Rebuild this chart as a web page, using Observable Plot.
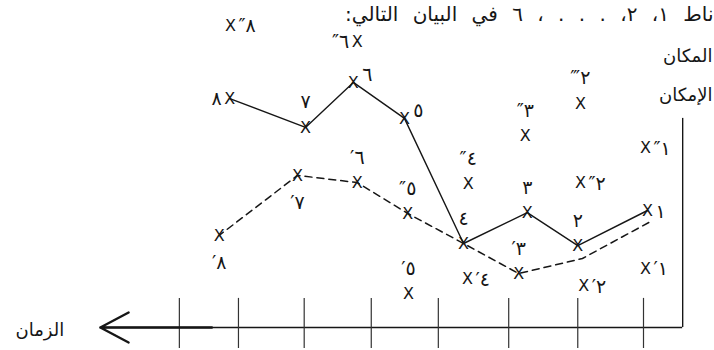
<!DOCTYPE html>
<html>
<head>
<meta charset="utf-8">
<script src="https://cdn.jsdelivr.net/npm/d3@7"></script>
<script src="https://cdn.jsdelivr.net/npm/@observablehq/plot@0.6"></script>
<style>
  html, body { margin: 0; padding: 0; background: #fff; overflow: hidden; }
  #chart svg { display: block; }
</style>
</head>
<body>
<div id="chart"></div>
<script>
// ---- data (time units along the axis, place units upward) ----
const titleText = "ناط ١، ٢، . . . ، ٦ في البيان التالي:";
const placeLabel = "المكان";
const possibleLabel = "الإمكان";
const timeLabel = "الزمان";

// tick marks on the time axis
const timeTicks = [1.0, 1.99, 3.03, 4.09, 5.10, 6.11, 7.10, 7.99];
const axisStart = 0.41;   // vertical axis position
const axisEnd = 9.18;     // arrow tip
const axisTop = 6.97;     // top of vertical axis

// solid path: points 1..8
const solidNames = ["١", "٢", "٣", "٤", "٥", "٦", "٧", "٨"];
const solidT = [0.94, 1.99, 2.75, 3.71, 4.60, 5.37, 6.09, 7.23];
const solidV = [3.90, 2.73, 3.83, 2.80, 6.97, 8.17, 6.67, 7.63];
const solidSide = ["right", "above", "above", "above", "upright", "upright", "above", "left"];

// dashed path
const dashedT = [0.92, 1.92, 2.88, 3.71, 4.55, 5.31, 6.21, 7.39];
const dashedV = [3.50, 2.30, 1.80, 2.80, 3.80, 4.83, 5.07, 3.07];
const dashedNames = [null, null, "′٣", null, "″٥", "′٦", "′٧", "′٨"];
const dashedSide = [null, null, "above", null, "above", "above", "below", "below"];

// separate crosses
const looseNames = ["″٨", "″٦", "‴٢", "″٣", "″١", "″٤", "″٢", "′٥", "′٤", "′٢", "′١"];
const looseT = [7.22, 5.31, 1.95, 2.78, 0.97, 3.64, 1.95, 4.54, 3.65, 1.90, 0.97];
const looseV = [10.07, 9.53, 7.47, 6.40, 6.00, 4.80, 4.83, 1.13, 1.63, 1.40, 1.97];
const looseSide = ["right", "left", "above", "above", "right", "above", "right", "above", "right", "right", "right"];

// ---- build tables ----
const solid = solidT.map((t, i) => ({t, v: solidV[i], name: solidNames[i], side: solidSide[i]}));
const dashed = dashedT.map((t, i) => ({t, v: dashedV[i], name: dashedNames[i], side: dashedSide[i]}));
const loose = looseT.map((t, i) => ({t, v: looseV[i], name: looseNames[i], side: looseSide[i]}));

const crosses = [
  ...solid,
  ...dashed.filter(d => d.name),
  ...loose
];

const ink = "#161616";
const labelFont = 19;

function labelMark(side, opts) {
  return Plot.text(crosses.filter(d => d.side === side), {
    x: "t", y: "v", text: "name",
    fill: ink, fontSize: labelFont, lineAnchor: "middle",
    ...opts
  });
}

const chart = Plot.plot({
  width: 714,
  height: 350,
  margin: 0,
  x: {domain: [0, 10], range: [709.4, 45.4], axis: null},
  y: {domain: [0, 10], range: [327, 27], axis: null},
  style: {background: "#fff", fontFamily: "'DejaVu Sans', sans-serif", color: ink},
  marks: [
    // axes
    Plot.ruleY([0], {x1: axisStart, x2: axisEnd, stroke: ink, strokeWidth: 1.6}),
    Plot.ruleX([axisStart], {y1: 0, y2: axisTop, stroke: ink, strokeWidth: 1.4}),
    Plot.ruleX(timeTicks, {y1: -0.7, y2: 0.97, stroke: "#333", strokeWidth: 1.2}),
    Plot.arrow([0], {x1: 7.5, x2: axisEnd, y1: 0, y2: 0, stroke: ink, strokeWidth: 2.4, headLength: 20, headAngle: 56}),
    // paths
    Plot.line(dashed, {x: "t", y: "v", stroke: ink, strokeWidth: 1.5, strokeDasharray: "7,5"}),
    Plot.line(solid, {x: "t", y: "v", stroke: ink, strokeWidth: 1.4}),
    // crosses
    Plot.text(crosses, {x: "t", y: "v", text: () => "X", fill: ink, fontSize: 16, lineAnchor: "middle", textAnchor: "middle"}),
    // labels
    labelMark("right", {textAnchor: "start", dx: 8, dy: 1}),
    labelMark("left", {textAnchor: "end", dx: -8}),
    labelMark("above", {textAnchor: "middle", dy: -25}),
    labelMark("below", {textAnchor: "middle", dy: 28}),
    labelMark("upright", {textAnchor: "middle", dx: 14, dy: -7}),
    // texts
    Plot.text([titleText], {text: d => "\u202B" + d + "\u202C", frameAnchor: "top-right", textAnchor: "end", lineAnchor: "middle", dx: -1, dy: 14, fontSize: 20, fill: ink}),
    Plot.text([placeLabel], {frameAnchor: "top-right", textAnchor: "end", lineAnchor: "middle", dx: -2, dy: 56, fontSize: 18, fill: ink}),
    Plot.text([possibleLabel], {frameAnchor: "top-right", textAnchor: "end", lineAnchor: "middle", dx: -2, dy: 95, fontSize: 18, fill: ink}),
    Plot.text([timeLabel], {frameAnchor: "bottom-left", textAnchor: "start", lineAnchor: "middle", dx: 15, dy: -20, fontSize: 18, fill: ink})
  ]
});
d3.select(chart).selectAll("text")
  .filter(function () { return this.textContent.includes("البيان"); })
  .style("word-spacing", "8px");
document.getElementById("chart").appendChild(chart);
</script>
</body>
</html>
